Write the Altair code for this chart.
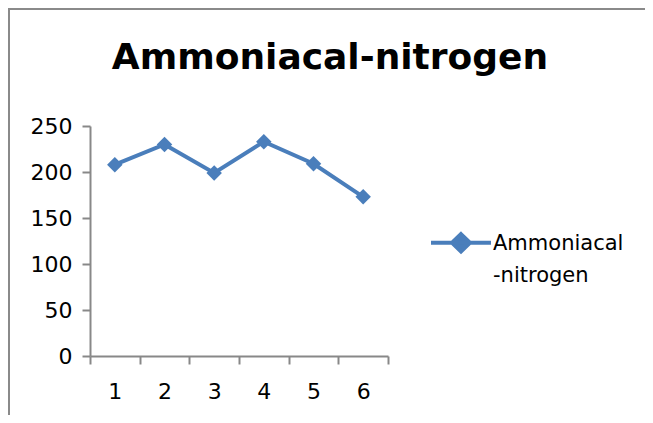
import altair as alt
import pandas as pd

samples = ["1", "2", "3", "4", "5", "6"]
values = [208, 230, 199, 233, 209, 173]
series_name = "Ammoniacal-nitrogen"
y_ticks = [0, 50, 100, 150, 200, 250]

df = pd.DataFrame({"sample": samples, "value": values, "series": [series_name] * len(samples)})

BLUE = "#4A7EBB"
AXIS = "#888888"
FONT = "DejaVu Sans"

x = alt.X(
    "sample:N", sort=samples, title=None,
    scale=alt.Scale(paddingInner=0, paddingOuter=0),
    axis=alt.Axis(labelAngle=0, tickBand="extent", domainColor=AXIS, tickColor=AXIS,
                  tickSize=8, domainWidth=2, tickWidth=2, labelFont=FONT,
                  labelFontSize=22, labelColor="black", labelPadding=17, grid=False),
)
y = alt.Y(
    "value:Q", title=None,
    scale=alt.Scale(domain=[0, 250], nice=False, zero=True),
    axis=alt.Axis(values=y_ticks, domainColor=AXIS, tickColor=AXIS, tickSize=8,
                  domainWidth=2, tickWidth=2, labelFont=FONT, labelFontSize=22,
                  labelColor="black", labelPadding=10, grid=False),
)
color = alt.Color(
    "series:N", scale=alt.Scale(range=[BLUE]),
    legend=alt.Legend(
        title=None, orient="none", legendX=339, legendY=92,
        symbolType="M-1,-0.24H1M0,-0.53L0.3,-0.24L0,0.05L-0.3,-0.24Z",
        symbolSize=3600, symbolStrokeWidth=4, symbolFillColor=BLUE,
        symbolStrokeColor=BLUE, labelFont=FONT, labelFontSize=21, labelColor="black",
        labelOffset=0, labelBaseline="alphabetic", labelLimit=300,
        labelExpr="['Ammoniacal', '-nitrogen']", padding=0,
    ),
)

line = alt.Chart(df).mark_line(strokeWidth=4).encode(x=x, y=y, color=color)
pts = alt.Chart(df).mark_point(shape="diamond", filled=True, size=240, opacity=1).encode(
    x=x, y=y, color=color)

frame = pd.DataFrame({"k": [0]})
left_border = alt.Chart(frame).mark_rule(color="#8a8a8a", strokeWidth=2).encode(
    x=alt.value(-81), y=alt.value(-118), y2=alt.value(289))
top_border = alt.Chart(frame).mark_rule(color="#8a8a8a", strokeWidth=2).encode(
    y=alt.value(-117), x=alt.value(-82), x2=alt.value(555))

chart = alt.layer(line, pts, left_border, top_border).properties(
    width=298, height=230,
    autosize=alt.AutoSizeParams(type="none"),
    padding={"left": 82, "top": 118, "right": 257, "bottom": 59},
    title=alt.TitleParams(series_name, font=FONT, fontSize=36, fontWeight="bold",
                          color="black", anchor="middle", dx=91, offset=0, dy=98,
                          frame="group", baseline="alphabetic"),
).configure(style={"guide-label": {"lineHeight": 32}}).configure_view(stroke=None)

chart.save("out.html", embed_options={"renderer": "svg", "actions": False})
